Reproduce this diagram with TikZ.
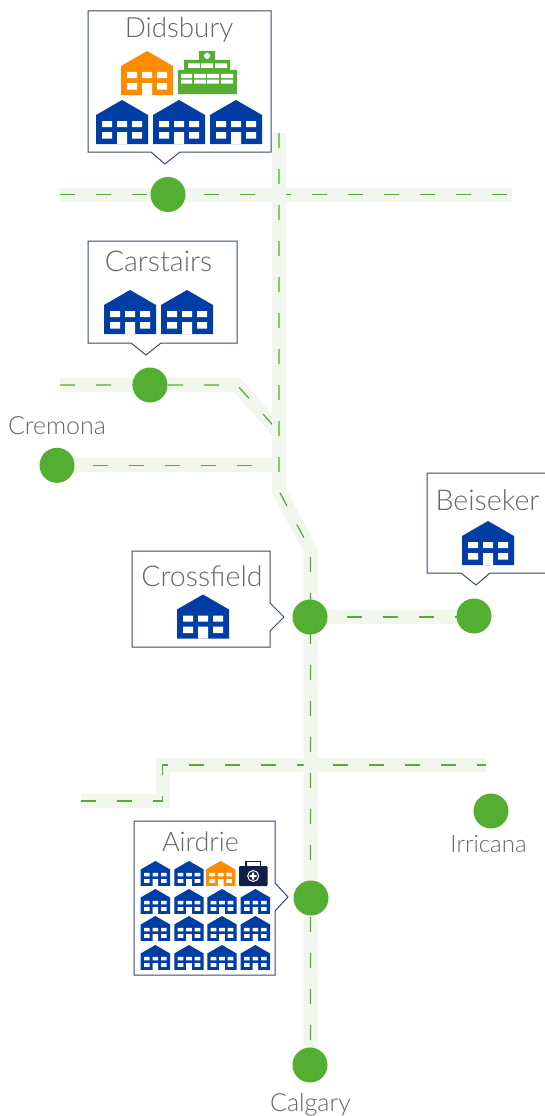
\documentclass[tikz,border=0pt]{standalone}
\usepackage{fontspec}
\setmainfont[UprightFont=* Light]{Lato}
\definecolor{roadbg}{HTML}{F1F7EC}
\definecolor{mygreen}{HTML}{53AE32}
\definecolor{myblue}{HTML}{003DA5}
\definecolor{myorange}{HTML}{FF8C00}
\definecolor{mynavy}{HTML}{0F1F45}
\definecolor{boxline}{HTML}{3A4A6B}
\definecolor{labelgray}{HTML}{666666}
\tikzset{
  x=1pt,y=-1pt,
  station/.style={circle,fill=mygreen,minimum size=35pt,inner sep=0pt},
  place/.style={text=labelgray,inner sep=0pt,anchor=base,font=\fontsize{25}{25}\selectfont},
  boxplace/.style={text=labelgray,inner sep=0pt,anchor=base,font=\fontsize{28.6}{28.6}\selectfont},
  callout/.style={draw=boxline,fill=white,line width=1pt,line join=miter},
}
\newcommand{\roadline}[1]{%
  \draw[roadbg,line width=14pt,line join=miter] #1;
  \draw[mygreen,line width=1.2pt,dash pattern=on 15pt off 21pt] #1;}
\newcommand{\bldg}[4]{%
  \begin{scope}[shift={(#1,#2)},scale=#3]
    \fill[#4] (0,15)--(26,0)--(52,15)--(52,44)--(0,44)--cycle;
    \fill[white] (6,21) rectangle (16,27) (21,21) rectangle (31,27) (36,21) rectangle (46,27)
      (6,32) rectangle (16,38.7) (36,32) rectangle (46,38.7) (21,32) rectangle (31,44);
  \end{scope}}
\begin{document}
\begin{tikzpicture}
\useasboundingbox (0,0) rectangle (545,1116);
\fill[white] (0,0) rectangle (545,1116);
% road junctions
\coordinate (dW) at (60,194.5); \coordinate (dE) at (512,194.5);
\coordinate (vT) at (279,133); \coordinate (vB1) at (279,491); \coordinate (vB2) at (310.5,550); \coordinate (vE) at (310.5,1062);
\coordinate (cW) at (60,385); \coordinate (cB) at (237,385); \coordinate (cJ) at (279,432);
\coordinate (lW) at (81,801); \coordinate (l1) at (162.5,801); \coordinate (l2) at (162.5,765); \coordinate (lE) at (486,765);
\coordinate (crJ) at (279,465.3); \coordinate (crS) at (57,465.3);
\coordinate (bJ) at (311,617); \coordinate (bE) at (474,617);
% roads
\roadline{(dW)--(dE)}
\roadline{(cW)--(cB)--(cJ)}
\roadline{(crS)--(crJ)}
\roadline{(bJ)--(bE)}
\roadline{(lW)--(l1)--(l2)--(lE)}
\roadline{(vT)--(vB1)--(vB2)--(vE)}
% stations
\node[station] (didsbury) at (168,194.5) {};
\node[station] (carstairs) at (150,385) {};
\node[station] (cremona) at (57,465.3) {};
\node[station] (crossfield) at (310,617) {};
\node[station] (beiseker) at (474,616) {};
\node[station] (irricana) at (491,811) {};
\node[station] (airdrie) at (311,898) {};
\node[station] (calgary) at (310,1065) {};
% callouts
\draw[callout] (88,11)--(271,11)--(271,152)--(180,152)--(165,164)--(151,152)--(88,152)--cycle;
\draw[callout] (88,241)--(237,241)--(237,343)--(161,343)--(146,355)--(131,343)--(88,343)--cycle;
\draw[callout] (132,551)--(270,551)--(270,603)--(284,617)--(270,631)--(270,647)--(132,647)--cycle;
\draw[callout] (548,473)--(427,473)--(427,573)--(461,573)--(476,585)--(490,573)--(548,573);
\draw[callout] (134,821)--(275,821)--(275,883)--(288,897)--(275,911)--(275,975)--(134,975)--cycle;
% labels
\node[boxplace,font=\fontsize{27.8}{27.8}\selectfont] (tD) at (179,38) {Didsbury};
\node[boxplace] (tC) at (158.5,271) {Carstairs};
\node[place] (tCr) at (57,434) {Cremona};
\node[boxplace] (tX) at (202,586) {Crossfield};
\node[boxplace] (tB) at (487.5,510) {Beiseker};
\node[boxplace,font=\fontsize{27}{27}\selectfont] (tA) at (200.5,851) {Airdrie};
\node[place,font=\fontsize{24}{24}\selectfont] (tI) at (488.5,852) {Irricana};
\node[place] (tG) at (310.5,1111) {Calgary};
% Didsbury icons
\bldg{121}{51}{1}{myorange}
\fill[mygreen] (199,51) rectangle (215,60) (184,60) rectangle (230,70) (178,70) rectangle (237,94);
\fill[white] (205.5,53) rectangle (208.5,59) (204,54.5) rectangle (210,57.5)
  (188,63.5) rectangle (200,68) (201,63.5) rectangle (213,68) (215,63.5) rectangle (227,68)
  (181,74) rectangle (192,78) (194,74) rectangle (206,78) (207,74) rectangle (219,78) (221,74) rectangle (233,78)
  (181,79.5) rectangle (192,83.5) (194,79.5) rectangle (206,83.5) (207,79.5) rectangle (219,83.5) (221,79.5) rectangle (233,83.5);
\bldg{96}{100}{1}{myblue}
\bldg{153}{100}{1}{myblue}
\bldg{210}{100}{1}{myblue}
% Carstairs
\bldg{104}{290}{1}{myblue}
\bldg{161}{290}{1}{myblue}
% Crossfield, Beiseker
\bldg{177}{594.5}{1}{myblue}
\bldg{462}{521}{1}{myblue}
% Airdrie
\bldg{140.7}{861}{.565}{myblue}
\bldg{174.3}{861}{.565}{myblue}
\bldg{206}{861}{.565}{myorange}
\fill[mynavy,rounded corners=1pt] (239,866) rectangle (267.5,886);
\draw[mynavy,line width=1.2pt] (246,866)--(246,861.5)--(260.5,861.5)--(260.5,866);
\draw[white,line width=1pt] (253.2,876) circle (5.5);
\fill[white] (252.2,872.5) rectangle (254.2,879.5) (249.7,875) rectangle (256.7,877);
\foreach \yy in {889,916,945}{\foreach \xx in {140.7,174.3,207.3,240.7}{\bldg{\xx}{\yy}{.565}{myblue}}}
\end{tikzpicture}
\end{document}
